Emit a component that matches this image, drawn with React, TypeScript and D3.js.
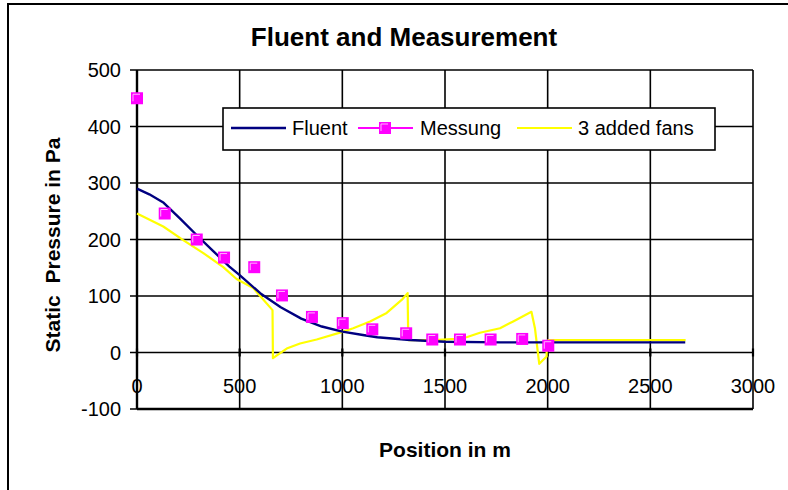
import React, { useRef, useEffect } from 'react';
import * as d3 from 'd3';

// Fluent simulation (position m, static pressure Pa)
const fluentPos = [0, 60, 130, 210, 290, 370, 450, 500, 600, 700, 800, 900, 1000, 1100, 1170, 1330, 1500, 1770, 2000, 2670];
const fluentVal = [290, 280, 265, 237, 208, 180, 152, 137, 105, 80, 60, 46, 37, 31, 27, 22, 19, 18, 18, 18];

// Measurement points
const messPos = [0, 135, 291, 424, 571, 706, 852, 1002, 1146, 1311, 1438, 1573, 1722, 1876, 2003];
const messVal = [450, 246, 200, 168, 151, 101, 63, 52, 41, 34, 23, 23, 23, 24, 12];

// Simulation with 3 added fans
const fansPos = [0, 128, 225, 323, 420, 485, 566, 660, 662, 729, 794, 875, 1005, 1053, 1135, 1216, 1289, 1318, 1321, 1450, 1550, 1605, 1670, 1768, 1832, 1921, 1938, 1949, 1959, 1995, 1995, 2003, 2672];
const fansVal = [246, 223, 199, 176, 151, 130, 114, 75, -10, 7, 16, 23, 37, 43, 55, 70, 93, 105, 22, 22, 24, 27, 35, 43, 55, 72, 43, 10, -20, -7, 4, 22, 22];

const xTicks = [0, 500, 1000, 1500, 2000, 2500, 3000];
const yTicks = [-100, 0, 100, 200, 300, 400, 500];

const FONT = '"Liberation Sans", Arial, sans-serif';

const App: React.FC = () => {
    const svgRef = useRef<SVGSVGElement | null>(null);

    useEffect(() => {
        if (!svgRef.current) return;
        const width = 788;
        const height = 490;

        const x = d3.scaleLinear().domain([0, 3000]).range([137, 753]);
        const y = d3.scaleLinear().domain([-100, 500]).range([409, 70]);

        const svg = d3.select(svgRef.current);
        svg.selectAll('*').remove();

        // outer chart frame (cropped on right/bottom)
        svg.append('rect')
            .attr('x', 8).attr('y', 4)
            .attr('width', width + 20).attr('height', height + 20)
            .attr('fill', 'white').attr('stroke', 'black').attr('stroke-width', 2);

        // title
        svg.append('text')
            .attr('x', 404).attr('y', 46)
            .attr('text-anchor', 'middle')
            .attr('font-family', FONT).attr('font-weight', 'bold').attr('font-size', 26)
            .text('Fluent and Measurement');

        // gridlines
        const grid = svg.append('g').attr('stroke', 'black').attr('stroke-width', 1.6);
        yTicks.forEach(t => {
            grid.append('line')
                .attr('x1', x(0) - 7).attr('x2', x(3000))
                .attr('y1', y(t)).attr('y2', y(t));
        });
        xTicks.forEach(t => {
            grid.append('line')
                .attr('x1', x(t)).attr('x2', x(t))
                .attr('y1', y(500)).attr('y2', y(-100));
        });
        // tick marks crossing the zero line
        xTicks.forEach(t => {
            grid.append('line')
                .attr('x1', x(t)).attr('x2', x(t))
                .attr('y1', y(0) - 4).attr('y2', y(0) + 4)
                .attr('stroke-width', 2.2);
        });
        // axes
        svg.append('line')
            .attr('x1', x(0)).attr('x2', x(0)).attr('y1', y(500)).attr('y2', y(-100))
            .attr('stroke', 'black').attr('stroke-width', 2.4);
        svg.append('line')
            .attr('x1', x(0)).attr('x2', x(3000)).attr('y1', y(-100)).attr('y2', y(-100))
            .attr('stroke', 'black').attr('stroke-width', 2.4);

        // y tick labels
        svg.append('g')
            .selectAll('text')
            .data(yTicks)
            .join('text')
            .attr('x', 121)
            .attr('y', d => y(d) + 7)
            .attr('text-anchor', 'end')
            .attr('font-family', FONT).attr('font-size', 20)
            .text(d => d);

        // x tick labels (next to the zero line)
        svg.append('g')
            .selectAll('text')
            .data(xTicks)
            .join('text')
            .attr('x', d => x(d))
            .attr('y', 393)
            .attr('text-anchor', 'middle')
            .attr('font-family', FONT).attr('font-size', 20)
            .text(d => d);

        // axis titles
        svg.append('text')
            .attr('x', 445).attr('y', 457)
            .attr('text-anchor', 'middle')
            .attr('font-family', FONT).attr('font-weight', 'bold').attr('font-size', 21)
            .text('Position in m');
        svg.append('text')
            .attr('transform', 'translate(60,245) rotate(-90)')
            .attr('text-anchor', 'middle')
            .attr('font-family', FONT).attr('font-weight', 'bold').attr('font-size', 21)
            .attr('xml:space', 'preserve')
            .style('white-space', 'pre')
            .text('Static  Pressure in Pa');

        const line = d3.line<[number, number]>()
            .x(d => x(d[0]))
            .y(d => y(d[1]));

        // 3 added fans
        svg.append('path')
            .attr('d', line(d3.zip(fansPos, fansVal) as [number, number][]))
            .attr('fill', 'none').attr('stroke', '#FFFF00').attr('stroke-width', 2.2)
            .attr('stroke-linejoin', 'round');

        // Fluent
        svg.append('path')
            .attr('d', line(d3.zip(fluentPos, fluentVal) as [number, number][]))
            .attr('fill', 'none').attr('stroke', '#000080').attr('stroke-width', 2.4)
            .attr('stroke-linejoin', 'round');

        // Messung markers
        const drawMarker = (g: d3.Selection<SVGGElement, unknown, null, undefined>, cx: number, cy: number) => {
            g.append('rect')
                .attr('x', cx - 6).attr('y', cy - 6)
                .attr('width', 12).attr('height', 12)
                .attr('fill', '#FF00FF');
            g.append('path')
                .attr('d', `M${cx - 4},${cy + 3}V${cy - 4}H${cx + 3}`)
                .attr('fill', 'none').attr('stroke', '#FFB4FF').attr('stroke-width', 1);
        };
        const marks = svg.append('g');
        messPos.forEach((p, i) => drawMarker(marks, x(p), y(messVal[i])));

        // legend
        const leg = svg.append('g');
        leg.append('rect')
            .attr('x', 223).attr('y', 108).attr('width', 492).attr('height', 42)
            .attr('fill', 'white').attr('stroke', 'black').attr('stroke-width', 1.6);
        const ly = 128;
        leg.append('line').attr('x1', 231).attr('x2', 286).attr('y1', ly).attr('y2', ly)
            .attr('stroke', '#000080').attr('stroke-width', 2.4);
        leg.append('text').attr('x', 292).attr('y', ly + 7)
            .attr('font-family', FONT).attr('font-size', 20).text('Fluent');
        leg.append('line').attr('x1', 358).attr('x2', 413).attr('y1', ly).attr('y2', ly)
            .attr('stroke', '#FF00FF').attr('stroke-width', 2);
        drawMarker(leg, 385, ly);
        leg.append('text').attr('x', 420).attr('y', ly + 7)
            .attr('font-family', FONT).attr('font-size', 20).text('Messung');
        leg.append('line').attr('x1', 517).attr('x2', 572).attr('y1', ly).attr('y2', ly)
            .attr('stroke', '#FFFF00').attr('stroke-width', 2.2);
        leg.append('text').attr('x', 578).attr('y', ly + 7)
            .attr('font-family', FONT).attr('font-size', 20).text('3 added fans');
    }, []);

    return (
        <svg
            ref={svgRef}
            width={788}
            height={490}
            style={{ position: 'absolute', left: 0, top: 0, background: 'white' }}
        />
    );
};

export default App;
